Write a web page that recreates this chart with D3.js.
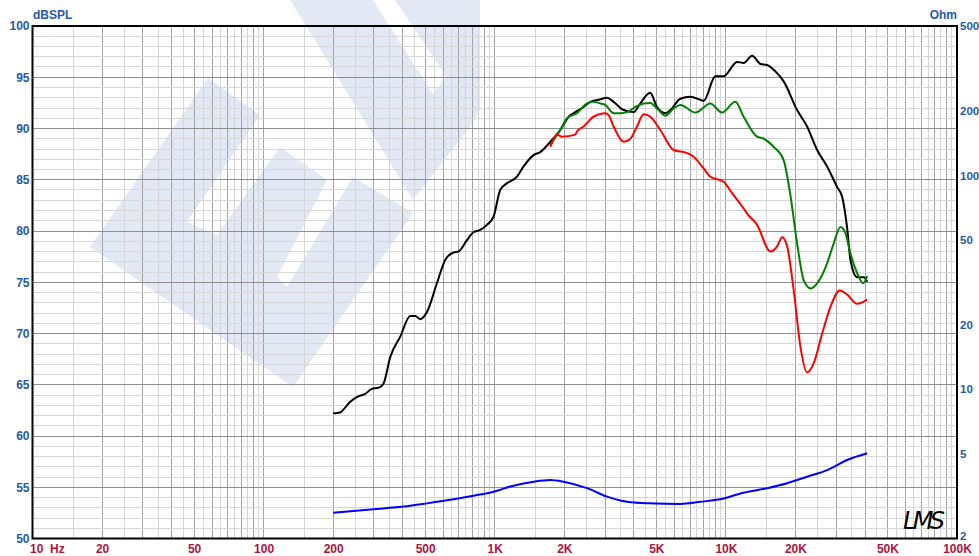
<!DOCTYPE html>
<html>
<head>
<meta charset="utf-8">
<script src="https://cdn.jsdelivr.net/npm/d3@7"></script>
<style>
  body { margin: 0; background: #fff; }
  svg { display: block; font-family: "Liberation Sans", Arial, sans-serif; }
</style>
</head>
<body>
<svg></svg>
<script>
// tick labels
const xTicks = [10, 20, 50, 100, 200, 500, 1000, 2000, 5000, 10000, 20000, 50000, 100000];
const xTickLabels = ["10", "20", "50", "100", "200", "500", "1K", "2K", "5K", "10K", "20K", "50K", "100K"];
const splTicks = [50, 55, 60, 65, 70, 75, 80, 85, 90, 95, 100];
const ohmTicks = [2, 5, 10, 20, 50, 100, 200, 500];

// black curve (dBSPL)
const blackFreq = [200, 214, 237, 253, 275, 294, 314, 330, 353, 390, 431, 453, 476, 509, 562, 611, 663, 697, 758, 810, 865, 925, 988, 1056, 1129, 1248, 1333, 1472, 1574, 1739, 1921, 2087, 2231, 2424, 2591, 2814, 3060, 3268, 3611, 3990, 4265, 4700, 5038, 5472, 5751, 6353, 7022, 7757, 8017, 9006, 9782, 11180, 11940, 12990, 14110, 15080, 16660, 17790, 20330, 22460, 24820, 27420, 30290, 31840, 33470, 34590, 36980, 39510, 40880];
const blackSpl = [62.2, 62.3, 63.35, 63.8, 64.1, 64.6, 64.7, 65.1, 67.7, 69.7, 71.7, 71.7, 71.4, 72.1, 74.9, 77.2, 77.9, 78.0, 79.1, 79.9, 80.1, 80.6, 81.4, 84.0, 84.65, 85.3, 86.3, 87.4, 87.7, 88.7, 89.85, 91.15, 91.6, 92.1, 92.6, 92.8, 93.0, 92.6, 91.8, 91.6, 92.45, 93.5, 92.1, 91.5, 91.8, 92.9, 93.1, 92.8, 92.7, 95.1, 95.1, 96.5, 96.4, 97.1, 96.3, 96.2, 95.4, 94.6, 91.8, 90.2, 87.9, 86.3, 84.3, 83.35, 80.3, 77.2, 75.5, 75.5, 75.05];

// green curve (dBSPL)
const greenFreq = [1739, 1921, 2055, 2269, 2507, 2677, 2862, 3009, 3268, 3494, 3736, 4128, 4408, 4713, 5038, 5472, 5943, 6353, 7379, 8570, 9627, 10990, 11940, 13650, 14580, 16110, 17790, 19020, 20330, 21720, 23220, 24820, 27420, 29290, 31310, 32910, 34590, 36980, 39270, 40880];
const greenSpl = [88.4, 89.85, 91.0, 91.5, 92.45, 92.6, 92.45, 92.3, 91.5, 91.5, 91.6, 92.2, 92.45, 92.5, 91.95, 91.25, 91.95, 92.3, 91.55, 92.45, 91.55, 92.6, 91.15, 89.2, 89.0, 88.2, 86.9, 83.5, 78.8, 75.2, 74.4, 74.9, 76.85, 78.8, 80.4, 79.8, 77.8, 75.9, 74.9, 75.6];

// red curve (dBSPL)
const redFreq = [1739, 1859, 1954, 2231, 2269, 2424, 2677, 3009, 3109, 3268, 3611, 3860, 4128, 4408, 4713, 5206, 5943, 6792, 7256, 8017, 8570, 9782, 10640, 11940, 12360, 13650, 15590, 16660, 17510, 18410, 19660, 21020, 22460, 23990, 26100, 28350, 31100, 33470, 36980, 40880];
const redSpl = [88.2, 89.4, 89.2, 89.4, 89.7, 90.2, 91.15, 91.5, 91.3, 90.2, 88.7, 89.0, 90.2, 91.4, 91.15, 89.85, 87.9, 87.6, 87.25, 86.1, 85.3, 84.8, 83.7, 82.2, 81.7, 80.6, 78.0, 78.5, 79.4, 78.5, 74.2, 68.7, 66.2, 67.1, 70.0, 72.6, 74.2, 73.8, 72.9, 73.3];

// blue curve (impedance, Ohm)
const blueFreq = [200, 299, 403, 509, 663, 810, 988, 1167, 1472, 1739, 1986, 2507, 3060, 3736, 4633, 6353, 7757, 9782, 11560, 15080, 18410, 22460, 27420, 33470, 40880];
const blueOhm = [2.64, 2.74, 2.82, 2.92, 3.05, 3.17, 3.31, 3.5, 3.69, 3.76, 3.69, 3.44, 3.14, 2.97, 2.92, 2.9, 2.97, 3.08, 3.25, 3.44, 3.63, 3.89, 4.18, 4.66, 5.01];

const width = 979;
const height = 556;
const plotLeft = 32.5, plotRight = 957, plotTop = 26, plotBottom = 538.5;

const blueText = "#1f5aa6";
const redText = "#b0123e";

const svg = d3.select("svg").attr("width", width).attr("height", height);

const xScale = d3.scaleLog().domain([10, 100000]).range([plotLeft, plotRight]);
const yScale = d3.scaleLinear().domain([50, 100]).range([plotBottom, plotTop]);
const ohmScale = d3.scaleLog().domain([2, 500]).range([plotBottom, plotTop]);

const crisp = (v) => Math.floor(v) + 0.5;

function drawWatermark() {
  const g = svg.append("g").attr("fill", "#e3e9f4");
  g.append("path").attr("d",
    "M90,247 L208,78 L260,115 L187,222 L217,235 L280,147 L327,180 L277,277 L287,287 L353,177 L413,213 L293,387 Z");
  g.append("path").attr("d", "M290,0 L480,0 L480,110 L470,127 L413,200 Z");
  g.append("path").attr("fill", "#fff").attr("d", "M373,0 L395,0 L446,76 L433,94 Z");
}

function drawGrid() {
  const g = svg.append("g");
  const vLines = [];
  [10, 100, 1000, 10000].forEach((dec) => {
    for (let m = 1; m < 10; m += 0.5) {
      if (dec === 10 && m === 1) continue;
      vLines.push({ f: dec * m, major: Number.isInteger(m) });
    }
  });
  g.selectAll(".vgrid")
    .data(vLines)
    .enter()
    .append("line")
    .attr("x1", (d) => crisp(xScale(d.f)))
    .attr("x2", (d) => crisp(xScale(d.f)))
    .attr("y1", plotTop)
    .attr("y2", plotBottom)
    .attr("stroke", (d) => (d.major ? "#a2a2a2" : "#d6d6d6"))
    .attr("stroke-width", 1);

  const hLines = d3.range(51, 100);
  g.selectAll(".hgrid")
    .data(hLines)
    .enter()
    .append("line")
    .attr("x1", plotLeft)
    .attr("x2", plotRight)
    .attr("y1", (d) => crisp(yScale(d)))
    .attr("y2", (d) => crisp(yScale(d)))
    .attr("stroke", (d) => (d % 5 === 0 ? "#8e8e8e" : "#d6d6d6"))
    .attr("stroke-width", 1);
}

function drawCurves() {
  const splLine = d3
    .line()
    .x((d) => xScale(d[0]))
    .y((d) => yScale(d[1]))
    .curve(d3.curveMonotoneX);
  const ohmLine = d3
    .line()
    .x((d) => xScale(d[0]))
    .y((d) => ohmScale(d[1]))
    .curve(d3.curveMonotoneX);

  const series = [
    { freq: blueFreq, val: blueOhm, color: "#0000ff", line: ohmLine },
    { freq: blackFreq, val: blackSpl, color: "#000000", line: splLine },
    { freq: greenFreq, val: greenSpl, color: "#008000", line: splLine },
    { freq: redFreq, val: redSpl, color: "#ff0000", line: splLine },
  ];

  series.forEach((s) => {
    svg
      .append("path")
      .datum(d3.zip(s.freq, s.val))
      .attr("fill", "none")
      .attr("stroke", s.color)
      .attr("stroke-width", 2)
      .attr("stroke-linejoin", "round")
      .attr("d", s.line);
  });
}

function drawAxes() {
  svg
    .append("rect")
    .attr("x", plotLeft)
    .attr("y", plotTop)
    .attr("width", plotRight - plotLeft)
    .attr("height", plotBottom - plotTop)
    .attr("fill", "none")
    .attr("stroke", "#000")
    .attr("stroke-width", 2);

  const xAxis = d3
    .axisBottom(xScale)
    .tickValues(xTicks)
    .tickFormat((d, i) => xTickLabels[i])
    .tickSize(0)
    .tickPadding(6);
  const gx = svg.append("g").attr("transform", `translate(0, ${plotBottom})`).call(xAxis);

  const yAxis = d3.axisLeft(yScale).tickValues(splTicks).tickSize(0).tickPadding(3);
  const gy = svg.append("g").attr("transform", `translate(${plotLeft}, 0)`).call(yAxis);

  const ohmAxis = d3
    .axisRight(ohmScale)
    .tickValues(ohmTicks)
    .tickFormat(d3.format("d"))
    .tickSize(0)
    .tickPadding(3);
  const gr = svg.append("g").attr("transform", `translate(${plotRight}, 0)`).call(ohmAxis);

  [gx, gy, gr].forEach((g) => {
    g.select(".domain").remove();
    g.selectAll("text")
      .attr("font-family", "Liberation Sans, Arial, sans-serif")
      .attr("font-size", 12)
      .attr("font-weight", "bold");
  });
  gx.selectAll("text").attr("fill", redText);
  gx.selectAll("text").filter((d) => d === 10).attr("text-anchor", "start").attr("dx", -3);
  gy.selectAll("text").attr("fill", blueText);
  gr.selectAll("text").attr("fill", blueText).attr("font-size", 11.5);
  // lowest Ohm label sits just above the 100K label
  gr.selectAll("text").filter((d) => d === 2).attr("dy", "0.1em");

  svg
    .append("text")
    .attr("x", 50)
    .attr("y", 553)
    .attr("font-size", 12)
    .attr("font-weight", "bold")
    .attr("fill", redText)
    .text("Hz");

  svg
    .append("text")
    .attr("x", 33)
    .attr("y", 19)
    .attr("font-size", 12)
    .attr("font-weight", "bold")
    .attr("fill", blueText)
    .text("dBSPL");

  svg
    .append("text")
    .attr("x", plotRight)
    .attr("y", 19)
    .attr("text-anchor", "end")
    .attr("font-size", 12)
    .attr("font-weight", "bold")
    .attr("fill", blueText)
    .text("Ohm");

  svg
    .append("text")
    .attr("x", 903)
    .attr("y", 529)
    .attr("font-family", "DejaVu Sans")
    .attr("font-style", "italic")
    .attr("font-weight", 200)
    .attr("font-size", 24)
    .attr("textLength", 42)
    .attr("fill", "#000")
    .text("LMS");
}

drawWatermark();
drawGrid();
drawCurves();
drawAxes();
</script>
</body>
</html>
